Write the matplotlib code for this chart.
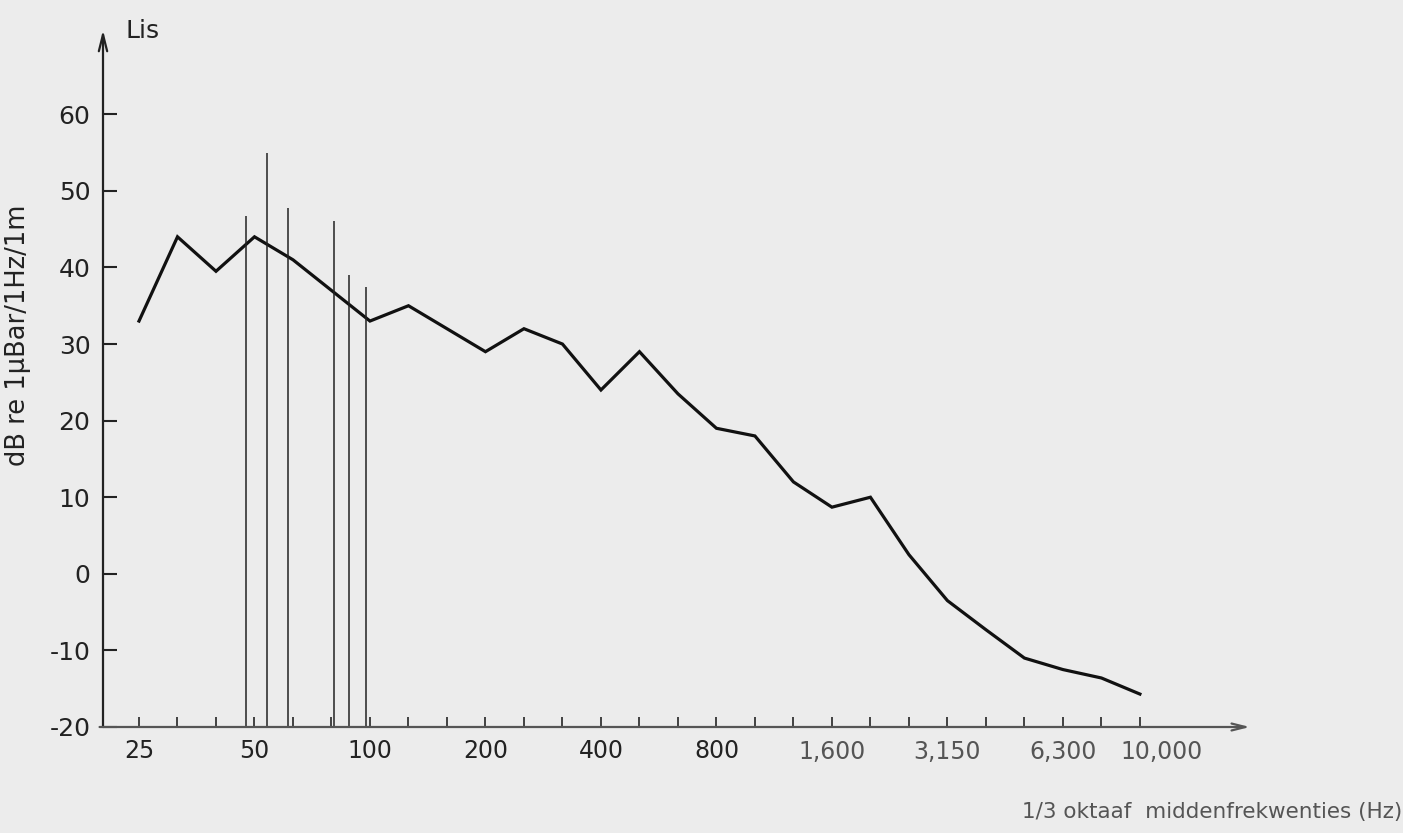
import numpy as np
import matplotlib.pyplot as plt
from matplotlib.transforms import ScaledTranslation

# 1/3-octaaf middenfrequenties (Hz) en gemeten niveau Lis (dB)
bands = [25, 31.5, 40, 50, 63, 80, 100, 125, 160, 200, 250, 315, 400, 500, 630,
         800, 1000, 1250, 1600, 2000, 2500, 3150, 4000, 5000, 6300, 8000, 10000]
lis_db = [33, 44, 39.5, 44, 41, 37, 33, 35, 32, 29, 32, 30, 24, 29, 23.5,
          19, 18, 12, 8.7, 10, 2.5, -3.5, -7.3, -11, -12.5, -13.6, -15.7]

# tonale componenten (smalle pieken)
tone_hz = [47.5, 54, 61, 80.5, 88, 97.5]
tone_db = [46.7, 55, 47.8, 46, 39, 37.5]

tick_text = {25: '25', 50: '50', 100: '100', 200: '200', 400: '400', 800: '800',
             1600: '1,600', 3150: '3,150', 6300: '6,300', 10000: '10,000'}
y_ticks = [-20, -10, 0, 10, 20, 30, 40, 50, 60]

paper = '#ececec'


def band_pos(f):
    # positie op de as in 1/3-octaafstappen vanaf 25 Hz
    return 3 * np.log2(np.asarray(f, dtype=float) / 25.0)


fig = plt.figure(figsize=(14.03, 8.33), dpi=100, facecolor=paper)
ax = fig.add_axes([103 / 1403, 106 / 833, (1250 - 103) / 1403, (727 - 30) / 833])
ax.set_facecolor(paper)

x_idx = np.arange(len(bands))
ax.plot(x_idx, lis_db, color='#111111', lw=2.3, solid_joinstyle='miter')
ax.vlines(band_pos(tone_hz), -20, tone_db, color='#222222', lw=1.1)

ax.set_xlim(-0.935, 28.86)
ax.set_ylim(-20, 71)

for s in ax.spines.values():
    s.set_visible(False)
ax.annotate('', xy=(0, 1), xytext=(0, 0), xycoords='axes fraction',
            arrowprops=dict(arrowstyle='->,head_length=1.2,head_width=0.3',
                            color='#222222', lw=1.6, shrinkA=0, shrinkB=0))
ax.annotate('', xy=(1, 0), xytext=(-0.003, 0), xycoords='axes fraction',
            arrowprops=dict(arrowstyle='->,head_length=1.0,head_width=0.25',
                            color='#555555', lw=1.6, shrinkA=0, shrinkB=0))

ax.set_xticks(x_idx)
ax.set_xticklabels([tick_text.get(b, '') for b in bands], fontsize=17, color='#222222')
ax.set_yticks(y_ticks)
ax.set_yticklabels([str(v) for v in y_ticks], fontsize=18, color='#222222')
ax.tick_params(axis='x', direction='in', length=7, width=1.3, pad=9, color='#333333')
ax.tick_params(axis='y', direction='in', length=10, width=1.5, pad=9, color='#222222')

# rechterdeel van de scan is vager; 10,000 staat iets rechts van zijn streep
for lab, b in zip(ax.get_xticklabels(), bands):
    if b >= 1600:
        lab.set_color('#555555')
    if b == 10000:
        lab.set_transform(lab.get_transform() + ScaledTranslation(0.22, 0, fig.dpi_scale_trans))

ax.set_ylabel('dB re 1\u03bcBar/1Hz/1m', fontsize=18.5, color='#222222')
ax.yaxis.set_label_coords(-0.063, 0.562)
fig.text(125 / 1403, 1 - 38 / 833, 'Lis', fontsize=18, color='#222222')
fig.text(1022 / 1403, 1 - 818 / 833, '1/3 oktaaf  middenfrekwenties (Hz)',
         fontsize=15.5, color='#555555')

fig.savefig('out.png', dpi=100, facecolor=paper)
